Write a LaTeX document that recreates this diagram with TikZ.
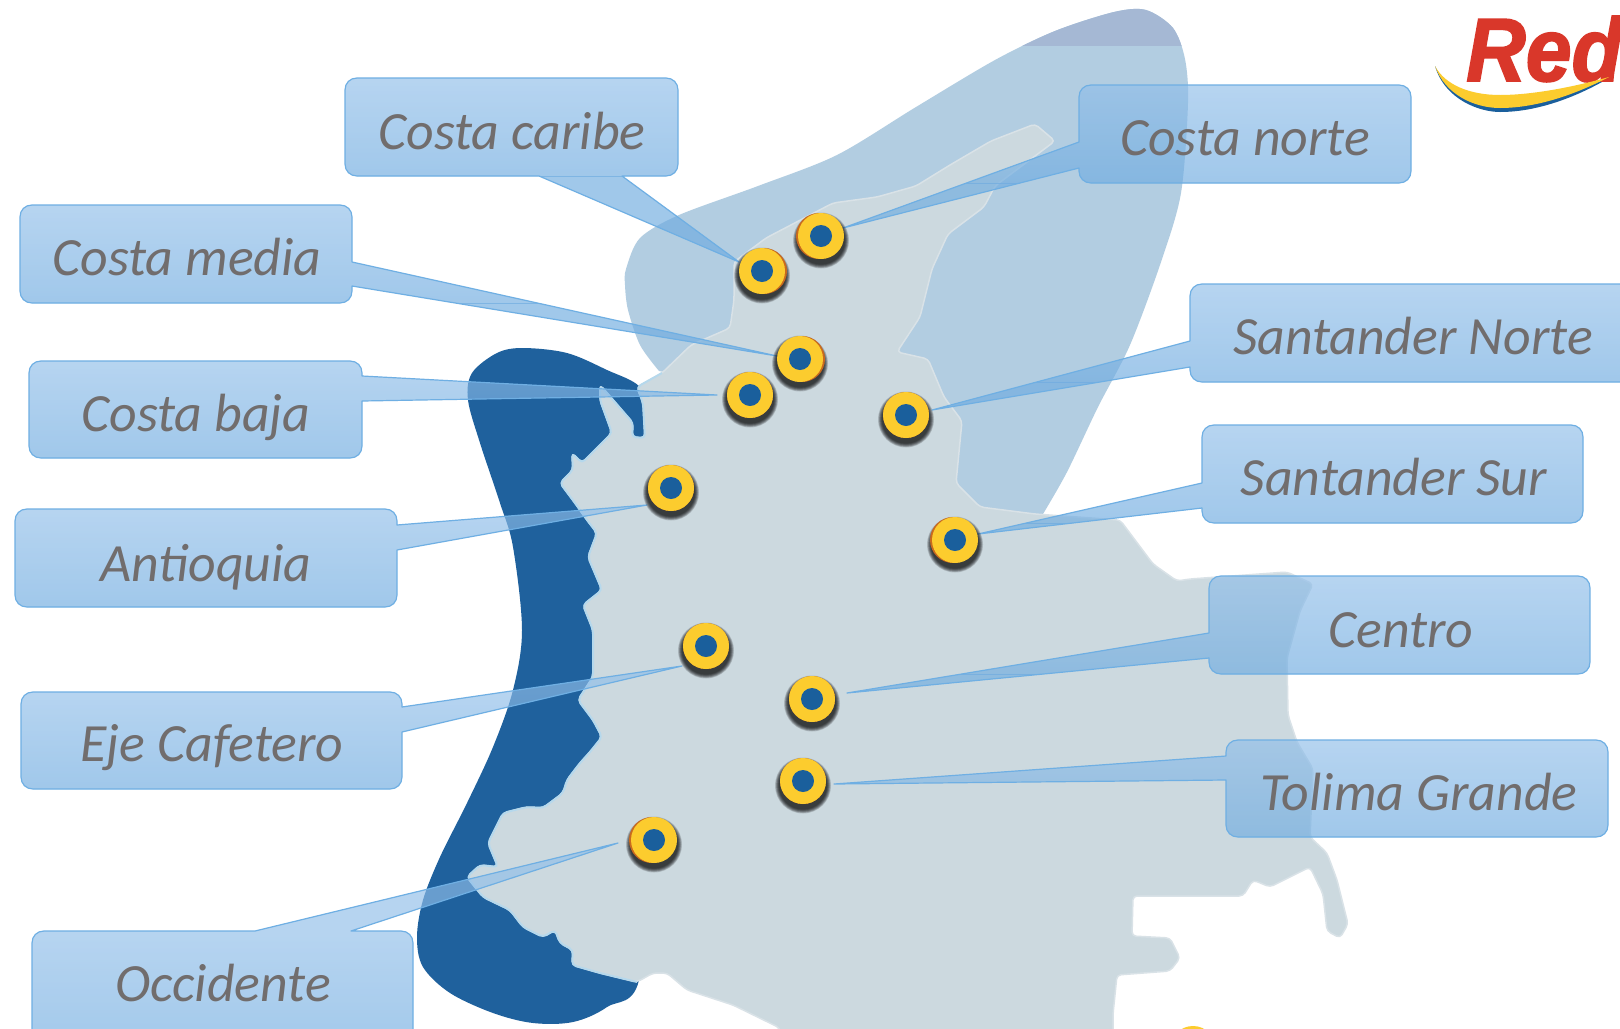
\documentclass[tikz,border=0pt]{standalone}
\usepackage{fontspec}
\setmainfont{Carlito}
\newfontfamily\redfont[BoldItalicFeatures={FakeBold=2}]{Liberation Sans}
\definecolor{landc}{HTML}{CCD9DF}
\definecolor{gulfc}{HTML}{B2CDE1}
\definecolor{bandc}{HTML}{A5B8D4}
\definecolor{deepc}{HTML}{1F619D}
\definecolor{fringec}{HTML}{B5D8EC}
\definecolor{yelc}{HTML}{FCCC2E}
\definecolor{rimc}{HTML}{C96A1E}
\definecolor{dotc}{HTML}{1A5F9C}
\definecolor{boxtop}{HTML}{90BEE9}
\definecolor{boxbot}{HTML}{6EABE0}
\definecolor{boxline}{HTML}{6FAFE3}
\definecolor{labelc}{HTML}{716D6D}
\definecolor{logored}{HTML}{D9372A}
\tikzset{
  lbl/.style={text=labelc,font=\fontsize{54}{56}\selectfont\itshape,anchor=base,inner sep=0pt},
  pinouter/.style={circle,fill=yelc,minimum size=46bp,inner sep=0pt},
  pininner/.style={circle,fill=dotc,minimum size=22bp,inner sep=0pt}
}
% x1 y1 x2 y2 topseg rightseg bottomseg leftseg
\newcommand\callout[8]{%
  \def\cp{({#1+12},#2) #5 -- ({#3-12},#2) .. controls ({#3-5},#2) and (#3,{#2+5}) .. (#3,{#2+12})
    #6 -- (#3,{#4-12}) .. controls (#3,{#4-5}) and ({#3-5},#4) .. ({#3-12},#4)
    #7 -- ({#1+12},#4) .. controls ({#1+5},#4) and (#1,{#4-5}) .. (#1,{#4-12})
    #8 -- (#1,{#2+12}) .. controls (#1,{#2+5}) and ({#1+5},#2) .. ({#1+12},#2) -- cycle}%
  \begin{scope}
    \clip \cp;
    \fill[boxtop,fill opacity=.65] (0,-100) rectangle (1800,#2);
    \shade[top color=boxtop,bottom color=boxbot,fill opacity=.65] (0,#2) rectangle (1800,#4);
    \fill[boxbot,fill opacity=.65] (0,#4) rectangle (1800,1300);
  \end{scope}
  \draw[boxline,line width=1.2bp,line join=round] \cp;
}
% name x y rimdx
\newcommand\pin[4]{%
  \foreach \rr in {28,27.5,27,26.5,26,25.5,25,24.5,24}{\fill[black,fill opacity=.13] (#2,{#3+4.5}) circle[radius=\rr];}
  \fill[rimc] ({#2+#4},#3) circle[radius=23];
  \node[pinouter] (#1) at (#2,#3) {};
  \node[pininner] (#1dot) at (#1) {};
}
\begin{document}
\begin{tikzpicture}[x=1bp,y=-1bp]
\useasboundingbox (0,0) rectangle (1620,1028);
\clip (0,0) rectangle (1620,1028);
\fill[white] (0,0) rectangle (1620,1028);
% gulf region
\begin{scope}
\def\gulf{plot[smooth,tension=.5] coordinates {(659,371) (640,345) (628,310) (625,285) (626,269) (640,238) (679,215) (758,186) (837,155) (916,107) (995,60) (1055,31) (1114,12) (1146,10) (1173,28) (1185,59) (1188,103) (1181,193) (1161,262) (1130,345) (1098,407) (1067,472) (1043,514)} -- (950,514) -- (800,400) -- cycle}
\fill[gulfc] \gulf;
\clip \gulf;
\fill[bandc] (1000,0) rectangle (1200,46);
\end{scope}
% dark sea
\fill[deepc] plot[smooth cycle,tension=.55] coordinates {(472,373) (497,353) (523,348) (567,353) (607,370) (640,387) (655,420) (650,560) (640,800) (640,975) (607,1007) (573,1022) (533,1023) (493,1013) (450,993) (423,967) (417,937) (423,900) (440,857) (467,803) (493,747) (513,690) (522,630) (513,547) (500,503) (480,443) (468,400)};
% land
\def\westcoast{(662,373) -- (637,387) -- (643,403) -- (645,438) -- (632,437) -- (633,423) -- (607,393) -- (600,385) -- (600,400) -- (612,433) -- (582,463) -- (572,453) -- (573,470) -- (560,483) -- (575,503) -- (587,520) -- (597,533) -- (588,557) -- (602,590) -- (583,605) -- (593,630) -- (593,677) -- (578,700) -- (593,720) -- (602,737) -- (590,752) -- (580,763) -- (567,780) -- (563,793) -- (543,808) -- (527,807) -- (503,813) -- (488,843) -- (498,867) -- (480,865) -- (467,877) -- (483,897) -- (510,910) -- (523,927) -- (543,937) -- (555,930) -- (560,943) -- (573,950) -- (572,965) -- (600,973) -- (637,982)}
\fill[landc,draw=landc!75!white,line width=1.5bp,line join=round,rounded corners=4bp]
  (833,203) -- (877,197) -- (916,186) -- (950,165) -- (991,141) -- (1035,124) -- (1055,141) -- (995,186) -- (984,207) -- (948,234) -- (932,269) -- (920,317) -- (897,352) -- (928,359) -- (944,397) -- (962,421) -- (956,483) -- (980,507) -- (1035,514) -- (1120,520) -- (1153,564) -- (1177,581) -- (1190,579) -- (1287,572) -- (1313,584) -- (1300,611) -- (1287,658) -- (1288,715) -- (1297,742) -- (1313,769) -- (1310,837) -- (1327,853) -- (1337,880) -- (1348,924) -- (1340,938) -- (1327,931) -- (1323,894) -- (1310,867) -- (1270,887) -- (1253,880) -- (1243,896) -- (1133,896) -- (1132,936) -- (1170,938) -- (1180,958) -- (1170,971) -- (1117,975) -- (1113,1014) -- (1113,1040) -- (780,1040) -- (780,1028) -- (733,1005) -- (687,990) -- (667,973) -- (653,973) -- (637,982) -- (600,973) -- (572,965) -- (573,950) -- (560,943) -- (555,930) -- (543,937) -- (523,927) -- (510,910) -- (483,897) -- (467,877) -- (480,865) -- (498,867) -- (488,843) -- (503,813) -- (527,807) -- (543,808) -- (563,793) -- (567,780) -- (580,763) -- (590,752) -- (602,737) -- (593,720) -- (578,700) -- (593,677) -- (593,630) -- (583,605) -- (602,590) -- (588,557) -- (597,533) -- (587,520) -- (575,503) -- (560,483) -- (573,470) -- (572,453) -- (582,463) -- (612,433) -- (600,400) -- (600,385) -- (607,393) -- (633,423) -- (632,437) -- (645,438) -- (643,403) -- (637,387) -- (662,373) -- (691,345) -- (730,328) -- (734,300) -- (734,262) -- (766,238) -- cycle;
\draw[fringec,line width=2bp,line join=round,rounded corners=4bp] \westcoast;
% logo
\fill[dotc] (1435,66) .. controls (1445,100) and (1480,112) .. (1500,112) .. controls (1540,112) and (1580,95) .. (1609,78) .. controls (1570,92) and (1530,104) .. (1497,104) .. controls (1470,104) and (1445,90) .. (1435,66) -- cycle;
\node[anchor=base west,inner sep=0pt,text=logored,xscale=.92,font=\fontsize{90}{90}\redfont\bfseries\itshape] (logotext) at (1466,81) {Red};
\fill[yelc] (1435,66) .. controls (1445,95) and (1475,108) .. (1500,108) .. controls (1540,108) and (1580,92) .. (1609,77) .. controls (1570,88) and (1530,95) .. (1500,95) .. controls (1470,95) and (1445,85) .. (1435,66) -- cycle;
% stray pin at the bottom edge
\fill[yelc] (1193,1049) circle[radius=23];
% callouts
\callout{345}{78}{678}{176}{}{}{-- (622,176) -- (739,262) -- (539,176)}{}
\callout{1079}{85}{1411}{183}{}{}{}{-- (1079,168) -- (843,228) -- (1079,142)}
\callout{20}{205}{352}{303}{}{-- (352,262) -- (777,356) -- (352,286)}{}{}
\callout{29}{361}{362}{458}{}{-- (362,376) -- (717,395) -- (362,401)}{}{}
\callout{15}{509}{397}{607}{}{-- (397,525) -- (647,505) -- (397,550)}{}{}
\callout{21}{692}{402}{789}{}{-- (402,707) -- (682,666) -- (402,732)}{}{}
\callout{32}{931}{413}{1060}{-- (255,931) -- (618,843) -- (351,931)}{}{}{}
\callout{1190}{284}{1660}{382}{}{}{}{-- (1190,367) -- (932,410) -- (1190,341)}
\callout{1202}{425}{1583}{523}{}{}{}{-- (1202,508) -- (978,534) -- (1202,483)}
\callout{1209}{576}{1590}{674}{}{}{}{-- (1209,658) -- (847,693) -- (1209,633)}
\callout{1226}{740}{1608}{837}{}{}{}{-- (1226,780) -- (834,784) -- (1226,756)}
% labels
\node[lbl] (lcaribe) at (512,149.5) {Costa caribe};
\node[lbl] (lnorte) at (1245,155.5) {Costa norte};
\node[lbl] (lmedia) at (187,275.5) {Costa media};
\node[lbl] (lbaja) at (196,431.5) {Costa baja};
\node[lbl] (lantioquia) at (206,581) {Antioquia};
\node[lbl] (leje) at (212,761.5) {Eje Cafetero};
\node[lbl] (locc) at (223,1001.5) {Occidente};
\node[lbl] (lsantn) at (1413,354.5) {Santander Norte};
\node[lbl] (lsants) at (1394,495.5) {Santander Sur};
\node[lbl] (lcentro) at (1401,647) {Centro};
\node[lbl] (ltolima) at (1419,810.5) {Tolima Grande};
% pins
\pin{pnorte}{821}{236}{-2}
\pin{pcaribe}{762}{271}{2}
\pin{pmedia}{800}{359}{2}
\pin{pbaja}{750}{395}{0}
\pin{psantn}{906}{415}{0}
\pin{pantioquia}{671}{488}{0}
\pin{peje}{706}{646}{0}
\pin{pcentro}{812}{699}{0}
\pin{ptolima}{803}{781}{0}
\pin{pocc}{654}{840}{-2}
\pin{psants}{955}{540}{-2}
\end{tikzpicture}
\end{document}
